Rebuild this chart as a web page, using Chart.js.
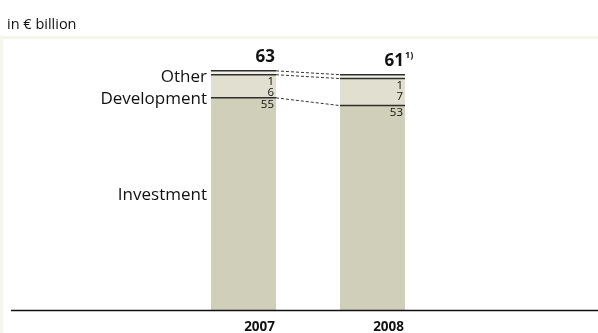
<!DOCTYPE html>
<html>
<head>
<meta charset="utf-8">
<script src="https://cdn.jsdelivr.net/npm/chart.js@4/dist/chart.umd.min.js"></script>
<style>
  html, body { margin: 0; padding: 0; background: #fff; }
  canvas { display: block; }
</style>
</head>
<body>
<canvas id="chart" width="598" height="333"></canvas>
<script>
const years = ['2007', '2008'];
const investment = [55, 53];
const development = [6, 7];
const other = [1, 1];
const totals = [63, 61];
const totalNotes = ['', '1)'];
const segmentNames = ['Investment', 'Development', 'Other'];
const unitLabel = 'in € billion';

const fontFamily = '"Open Sans", "DejaVu Sans", sans-serif';
const ink = '#111';

// frame, headline, baseline, segment rules, connectors and labels
const annotate = {
  id: 'annotate',
  beforeDraw(chart) {
    const ctx = chart.ctx;
    ctx.save();
    ctx.fillStyle = '#f5f5eb';
    ctx.fillRect(0, 36, 3, chart.height - 36);
    ctx.fillRect(3, 36, chart.width - 3, 3);
    ctx.fillStyle = ink;
    ctx.font = '14.5px ' + fontFamily;
    ctx.textBaseline = 'alphabetic';
    ctx.textAlign = 'left';
    ctx.fillText(unitLabel, 7, 29);
    ctx.restore();
  },
  afterDatasetsDraw(chart) {
    const ctx = chart.ctx;
    const area = chart.chartArea;
    const xScale = chart.scales.x;
    const metas = chart.data.datasets.map((_, i) => chart.getDatasetMeta(i));
    ctx.save();

    // baseline
    ctx.strokeStyle = '#111';
    ctx.lineWidth = 1.5;
    ctx.beginPath();
    ctx.moveTo(11, area.bottom + 0.5);
    ctx.lineTo(chart.width, area.bottom + 0.5);
    ctx.stroke();

    // year labels, right-aligned to the bar edge
    const barHalf = metas[0].data[0].width / 2;
    ctx.fillStyle = ink;
    ctx.font = 'bold 13.5px ' + fontFamily;
    ctx.textAlign = 'right';
    ctx.textBaseline = 'alphabetic';
    years.forEach((year, j) => {
      ctx.fillText(year, xScale.getPixelForValue(j) + barHalf - 1, area.bottom + 21);
    });

    // dashed connectors between segment tops
    ctx.lineWidth = 1;
    ctx.setLineDash([3, 2]);
    ctx.strokeStyle = '#333';
    metas.forEach(meta => {
      const a = meta.data[0], b = meta.data[1];
      ctx.beginPath();
      ctx.moveTo(a.x + a.width / 2, a.y);
      ctx.lineTo(b.x - b.width / 2, b.y);
      ctx.stroke();
    });
    ctx.setLineDash([]);

    // dark rule on top of each segment
    ctx.strokeStyle = '#2e2e2e';
    ctx.lineWidth = 1.5;
    metas.forEach(meta => {
      meta.data.forEach(bar => {
        ctx.beginPath();
        ctx.moveTo(bar.x - bar.width / 2, bar.y);
        ctx.lineTo(bar.x + bar.width / 2, bar.y);
        ctx.stroke();
      });
    });

    // segment values, top segment first; step below a rule they would cross
    const valueH = 11;
    ctx.font = '11.5px ' + fontFamily;
    ctx.textAlign = 'right';
    ctx.textBaseline = 'top';
    years.forEach((_, j) => {
      let prev = -Infinity;
      for (let i = metas.length - 1; i >= 0; i--) {
        const bar = metas[i].data[j];
        let y = Math.max(bar.y + 1, prev + valueH);
        if (i > 0) {
          const below = metas[i - 1].data[j].y;
          if (below > y && below < y + valueH) y = below + 1;
        }
        ctx.fillText(String(chart.data.datasets[i].data[j]), bar.x + bar.width / 2 - 2, y);
        prev = y;
      }
    });

    // totals with footnote marker
    years.forEach((_, j) => {
      const bar = metas[metas.length - 1].data[j];
      const right = bar.x + bar.width / 2 - 1;
      ctx.textBaseline = 'alphabetic';
      ctx.textAlign = 'right';
      ctx.font = 'bold 17px ' + fontFamily;
      ctx.fillText(String(totals[j]), right, bar.y - 9);
      if (totalNotes[j]) {
        ctx.textAlign = 'left';
        ctx.font = 'bold 9px ' + fontFamily;
        ctx.fillText(totalNotes[j], right + 1, bar.y - 17);
      }
    });

    // segment names beside the first bar
    ctx.font = '17px ' + fontFamily;
    ctx.textAlign = 'right';
    ctx.textBaseline = 'middle';
    let prevMid = -Infinity;
    for (let i = metas.length - 1; i >= 0; i--) {
      const bar = metas[i].data[0];
      const centre = (bar.y + bar.base) / 2;
      const mid = i === metas.length - 1 ? bar.y + 6 : Math.max(centre - 9, prevMid + 22);
      ctx.fillText(segmentNames[i], bar.x - bar.width / 2 - 4, mid);
      prevMid = mid;
    }
    ctx.restore();
  }
};

new Chart(document.getElementById('chart'), {
  type: 'bar',
  data: {
    labels: years,
    datasets: [
      { label: segmentNames[0], data: investment, backgroundColor: '#d0cfba' },
      { label: segmentNames[1], data: development, backgroundColor: '#e1e0d0' },
      { label: segmentNames[2], data: other, backgroundColor: '#f0f0e7' }
    ]
  },
  options: {
    responsive: false,
    animation: false,
    events: [],
    layout: { padding: { left: 179, right: 161, top: 40, bottom: 23 } },
    datasets: { bar: { barPercentage: 0.504, categoryPercentage: 1, borderWidth: 0 } },
    plugins: { legend: { display: false }, tooltip: { enabled: false }, title: { display: false } },
    scales: {
      x: { stacked: true, display: false },
      y: { stacked: true, display: false, min: 0, max: 70 }
    }
  },
  plugins: [annotate]
});
</script>
</body>
</html>
